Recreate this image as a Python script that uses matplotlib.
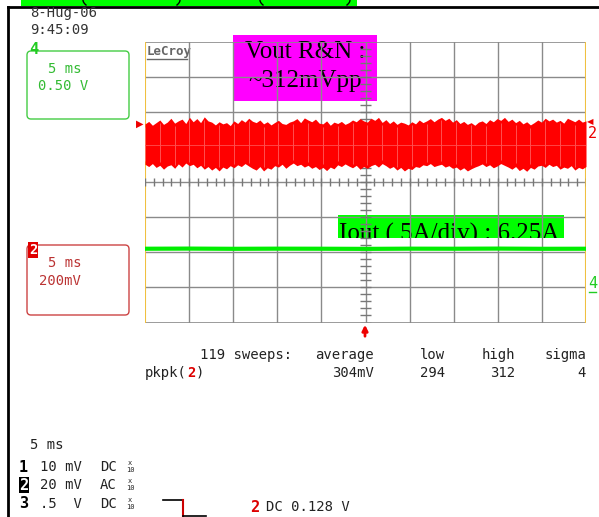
import matplotlib
matplotlib.use('Agg')
import matplotlib.pyplot as plt
from matplotlib.patches import Rectangle, FancyBboxPatch
import numpy as np

# ---- data ----
# ch2 (Vout ripple & noise), 200 mV/div, envelope in mV around the trace centre
vout_hi = [118, 132, 110, 125, 140, 115, 128, 150, 122, 135,
           145, 120, 155, 130, 148, 125, 158, 135, 128, 112,
           130, 118, 125, 108, 135, 120, 142, 128, 150, 133,
           125, 140, 118, 130, 112, 126, 138, 120, 115, 128,
           135, 148, 125, 152, 140, 130, 145, 122, 118, 135,
           110, 128, 120, 132, 115, 125, 140, 130, 148, 135,
           128, 150, 138, 155, 126, 142, 120, 135, 115, 128,
           122, 112, 130, 118, 140, 125, 135, 148, 130, 145,
           155, 138, 150, 128, 142, 120, 132, 115, 125, 110,
           128, 135, 120, 142, 130, 148, 138, 155, 132, 145,
           125, 138, 118, 130, 112, 125, 140, 128, 150, 135,
           145, 128, 138, 122, 150, 140, 130, 145, 128, 135]
vout_lo = [-112, -125, -108, -130, -118, -140, -122, -115, -135, -110,
           -128, -105, -120, -112, -132, -118, -140, -125, -145, -130,
           -150, -128, -138, -120, -132, -115, -125, -108, -122, -135,
           -145, -125, -150, -132, -140, -120, -128, -112, -135, -118,
           -105, -120, -112, -128, -118, -135, -125, -142, -130, -148,
           -128, -138, -115, -125, -110, -122, -132, -118, -140, -125,
           -135, -120, -112, -128, -108, -120, -135, -125, -145, -130,
           -150, -135, -142, -125, -130, -115, -120, -108, -125, -118,
           -112, -128, -120, -135, -128, -145, -132, -150, -138, -128,
           -120, -110, -125, -115, -132, -122, -108, -118, -128, -140,
           -125, -148, -135, -152, -130, -140, -122, -118, -130, -112,
           -125, -118, -140, -128, -135, -120, -145, -130, -138, -125]
vout_offset_mv = 213      # trace sits ~1 div above centre
mv_per_div = 200

# ch4 (Iout), 5 A/div
iout_a = [6.25, 6.27, 6.24, 6.26, 6.25, 6.23, 6.26, 6.25, 6.27, 6.24, 6.25]
iout_offset_div = 3.15
a_per_div = 5

ms_per_div = 5
n_div_x = 10
n_div_y = 8

stat_names = ['average', 'low', 'high', 'sigma']
stat_vals = ['304mV', '294', '312', '4']
ch_num = ['1', '2', '3']
ch_volts = ['10 mV', '20 mV', '.5  V']
ch_coupling = ['DC', 'AC', 'DC']

W, H = 599, 517
fig = plt.figure(figsize=(W / 100, H / 100), dpi=100)
fig.patch.set_facecolor('white')

# overlay axes in pixel coordinates
ax0 = fig.add_axes([0, 0, 1, 1])
ax0.set_xlim(0, W)
ax0.set_ylim(H, 0)
ax0.axis('off')

mono = 'DejaVu Sans Mono'
serif = 'Liberation Serif'

# top green banner (cut off), bits of its brackets, and black frame lines
ax0.add_patch(Rectangle((21, -2), 336, 7.5, color='#00ff00', lw=0))
for xp, d in [(83, 1), (180, -1), (260, 1), (350, -1)]:
    yy = np.linspace(0, 5, 8)
    ax0.plot(xp + d * 3 * (yy / 5) ** 2, yy, color='black', lw=1)
ax0.plot([8, W], [6.5, 6.5], color='black', lw=2)
ax0.plot([8, 8], [6.5, H], color='black', lw=2)

# date / time
ax0.text(30, 13, '8-Hug-06', fontsize=10, family=mono, color='#333333', va='center')
ax0.text(30, 30, '9:45:09', fontsize=10, family=mono, color='#333333', va='center')

# channel 4 box
ax0.add_patch(FancyBboxPatch((27, 51), 102, 68, boxstyle='round,pad=0,rounding_size=4',
                             fill=False, ec='#44cc44', lw=1))
ax0.text(29, 50, '4', fontsize=11, family=mono, color='#22cc22', fontweight='bold', va='center')
ax0.text(48, 69, '5 ms', fontsize=10, family=mono, color='#33bb33', va='center')
ax0.text(38, 86, '0.50 V', fontsize=10, family=mono, color='#33bb33', va='center')

# channel 2 box
ax0.add_patch(FancyBboxPatch((27, 245), 102, 70, boxstyle='round,pad=0,rounding_size=4',
                             fill=False, ec='#cc4444', lw=1))
ax0.text(29, 250, '2', fontsize=10, family=mono, color='white', fontweight='bold', va='center',
         bbox=dict(facecolor='#e00000', edgecolor='none', pad=0.5))
ax0.text(48, 263, '5 ms', fontsize=10, family=mono, color='#bb3333', va='center')
ax0.text(39, 281, '200mV', fontsize=10, family=mono, color='#bb3333', va='center')

# scope grid axes
gx0, gx1, gy0, gy1 = 145, 586, 41.5, 322.5
ax = fig.add_axes([gx0 / W, 1 - gy1 / H, (gx1 - gx0) / W, (gy1 - gy0) / H])
ax.set_xlim(0, n_div_x * ms_per_div)
ax.set_ylim(-n_div_y / 2, n_div_y / 2)
ax.axis('off')
for i in range(1, n_div_x):
    ax.axvline(i * ms_per_div, color='#8a8a8a', lw=1, zorder=1)
for j in range(1, n_div_y):
    ax.axhline(j - n_div_y / 2, color='#8a8a8a', lw=1, zorder=1)
ax.axhline(-n_div_y / 2, color='#8a8a8a', lw=1.2, zorder=1)
ax.axhline(n_div_y / 2, color='#8a8a8a', lw=1.2, zorder=1)
ax.axvline(0, color='#f0c040', lw=1.5, zorder=1)
ax.axvline(n_div_x * ms_per_div, color='#f0c040', lw=1.5, zorder=1)

# minor ticks along centre lines
xc = n_div_x * ms_per_div / 2
tx = np.arange(0, n_div_x * ms_per_div + 0.01, ms_per_div / 5)
ax.vlines(tx, -0.11, 0.11, color='#777777', lw=1, zorder=1)
ty = np.arange(-n_div_y / 2, n_div_y / 2 + 0.01, 0.2)
ax.hlines(ty, xc - 0.6, xc + 0.6, color='#777777', lw=1, zorder=1)

# ch2 noise band
t = np.linspace(0, n_div_x * ms_per_div, len(vout_hi))
hi = (np.array(vout_hi) + vout_offset_mv) / mv_per_div
lo = (np.array(vout_lo) + vout_offset_mv) / mv_per_div
ax.fill_between(t, lo, hi, color='#ff0000', lw=0, zorder=3)
ax.vlines(t[::4], lo[::4] + 0.1, hi[::4] - 0.08, color='#ff7070', lw=0.5, zorder=3)
ax.axhline(vout_offset_mv / mv_per_div, color='#ff5050', lw=0.6, zorder=3)

# ch4 current trace
t4 = np.linspace(0, n_div_x * ms_per_div, len(iout_a))
ax.plot(t4, np.array(iout_a) / a_per_div - iout_offset_div, color='#00ee00', lw=3, zorder=3)

# trace markers
ax0.text(143, 124, '\u25b6', fontsize=7, color='#ee0000', ha='right', va='center')
ax0.text(587, 122, '\u25c0', fontsize=6, color='#ee0000', ha='left', va='center')
ax0.text(588, 134, '2', fontsize=11, family=mono, color='#ee0000', ha='left', va='center')
ax0.text(588, 283, '4', fontsize=11, family=mono, color='#22cc22', ha='left', va='center')
ax0.plot([589, 596], [292, 292], color='#22cc22', lw=1)

# LeCroy logo
ax0.text(147, 52, 'LeCroy', fontsize=9, family=mono, fontweight='bold', color='#666666', va='center')
ax0.plot([147, 187], [59, 59], color='#666666', lw=1)

# annotation boxes
ax0.add_patch(Rectangle((233, 35), 144, 66, color='#ff00ff', lw=0, zorder=5))
ax0.text(305, 52, 'Vout R&N :', fontsize=18, family=serif, ha='center', va='center', zorder=6)
ax0.text(305, 81, '~312mVpp', fontsize=18, family=serif, ha='center', va='center', zorder=6)

gbox = Rectangle((338, 215), 226, 23, color='#00ff00', lw=0, zorder=5)
ax0.add_patch(gbox)
lbl = ax0.text(339, 241, 'Iout ( 5A/div) : 6.25A', fontsize=18, family=serif, ha='left',
               va='baseline', zorder=6, clip_on=True)
lbl.set_clip_path(gbox)

# trigger arrow
ax0.annotate('', xy=(365, 322), xytext=(365, 339),
             arrowprops=dict(arrowstyle='-|>', color='#ee0000', lw=2, mutation_scale=8))

# measurement line
ax0.text(200, 355, '119 sweeps:', fontsize=10, family=mono, color='#222222', va='center')
ax0.text(145, 373, 'pkpk(', fontsize=10, family=mono, color='#222222', va='center')
ax0.text(187, 373, '2', fontsize=10, family=mono, color='#dd0000', fontweight='bold', va='center')
ax0.text(196, 373, ')', fontsize=10, family=mono, color='#222222', va='center')
stat_x = [374, 445, 515, 586]
for xs, name, val in zip(stat_x, stat_names, stat_vals):
    ax0.text(xs, 355, name, fontsize=10, family=mono, color='#222222', ha='right', va='center')
    ax0.text(xs, 373, val, fontsize=10, family=mono, color='#222222', ha='right', va='center')

# timebase / channel settings
ax0.text(30, 445, '5 ms', fontsize=10, family=mono, color='#222222', va='center')
row_y = [467, 485, 504]
for k, (n, v, c) in enumerate(zip(ch_num, ch_volts, ch_coupling)):
    y = row_y[k]
    if n == '2':
        ax0.text(19, y, n, fontsize=11, family=mono, fontweight='bold', color='white', va='center',
                 bbox=dict(facecolor='black', edgecolor='none', pad=0.3))
    else:
        ax0.text(19, y, n, fontsize=11, family=mono, fontweight='bold', color='black', va='center')
    ax0.text(40, y, v, fontsize=10, family=mono, color='#222222', va='center')
    ax0.text(100, y, c, fontsize=10, family=mono, color='#222222', va='center')
    ax0.text(130, y - 4, 'x', fontsize=5, family=mono, color='#222222', ha='center', va='center')
    ax0.text(130, y + 3, '10', fontsize=5, family=mono, color='#222222', ha='center', va='center')

# trigger level symbol
ax0.plot([163, 183], [500, 500], color='black', lw=1.2)
ax0.plot([183, 183], [500, H], color='#cc0000', lw=1.5)
ax0.plot([183, 206], [515.5, 515.5], color='black', lw=1.2)
ax0.text(250, 507, '2', fontsize=11, family=mono, fontweight='bold', color='#dd0000', va='center')
ax0.text(266, 507, 'DC 0.128 V', fontsize=10, family=mono, color='#222222', va='center')

fig.savefig('out.png', dpi=100)
